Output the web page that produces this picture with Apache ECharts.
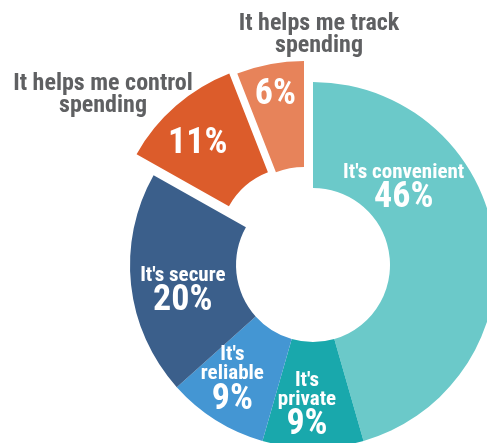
<!DOCTYPE html>
<html>
<head>
<meta charset="utf-8">
<script src="https://cdn.jsdelivr.net/npm/echarts@6/dist/echarts.min.js"></script>
<style>
html,body{margin:0;padding:0;background:#fff;}
#c{width:487px;height:443px;}
</style>
</head>
<body>
<div id="c"></div>
<script>
// ---- data ----
const categories = ["It's convenient", "It's private", "It's reliable", "It's secure", "It helps me control spending", "It helps me track spending"];
const values = [46, 9, 9, 20, 11, 6];
// text shown inside each slice (empty = percentage only)
const insideNames = ["It's convenient", "It's\nprivate", "It's\nreliable", "It's secure", "", ""];
// captions drawn outside the exploded slices
const captionTexts = ["It helps me control\nspending", "It helps me track\nspending"];

// ---- styles / layout ----
const colors = ['#6BC9C9', '#19A8AC', '#4496D3', '#3B5F8B', '#DC5C2B', '#E7835A'];
const FONT = '"Roboto Condensed", "Liberation Sans Narrow", "DejaVu Sans Condensed", sans-serif';
const radius = [77, 183];
const mainCenter = [313, 265];
const controlCenter = [296, 244];
const trackCenter = [304, 244];
const labelNudge = [[-41, -58], [-6, 8], [-10, 3], [2, 12], [-11, 0], [-4, -18]];

function pieSeries(center, visibleIdx) {
  return {
    type: 'pie',
    silent: true,
    center: center,
    radius: radius,
    startAngle: 90,
    clockwise: true,
    avoidLabelOverlap: false,
    animation: false,
    data: categories.map((name, i) => {
      const vis = visibleIdx.indexOf(i) >= 0;
      return {
        name: name,
        value: values[i],
        itemStyle: { color: vis ? colors[i] : 'rgba(0,0,0,0)' },
        label: { show: vis }
      };
    }),
    label: {
      position: 'inside',
      formatter: (p) => {
        const nm = insideNames[p.dataIndex];
        const pct = '{b|' + values[p.dataIndex] + '%}';
        return nm ? nm.split('\n').map(s => '{a|' + s + '}').join('\n') + '\n' + pct : pct;
      },
      rich: {
        a: { color: '#fff', fontFamily: FONT, fontWeight: 'bold', fontSize: 21, lineHeight: 19, align: 'center' },
        b: { color: '#fff', fontFamily: FONT, fontWeight: 'bold', fontSize: 36, lineHeight: 32, align: 'center' }
      }
    },
    labelLine: { show: false },
    labelLayout: (p) => ({ dx: labelNudge[p.dataIndex][0], dy: labelNudge[p.dataIndex][1] })
  };
}

const chart = echarts.init(document.getElementById('c'), null, { renderer: 'canvas' });
chart.setOption({
  backgroundColor: '#fff',
  animation: false,
  title: [
    { text: captionTexts[0], left: 98, top: 68, textAlign: 'center',
      textStyle: { color: '#5F6062', fontFamily: FONT, fontWeight: 'bold', fontSize: 24, lineHeight: 22 } },
    { text: captionTexts[1], left: 314, top: 8, textAlign: 'center',
      textStyle: { color: '#5F6062', fontFamily: FONT, fontWeight: 'bold', fontSize: 24, lineHeight: 22 } }
  ],
  series: [
    pieSeries(mainCenter, [0, 1, 2, 3]),
    pieSeries(controlCenter, [4]),
    pieSeries(trackCenter, [5])
  ]
});
</script>
</body>
</html>
